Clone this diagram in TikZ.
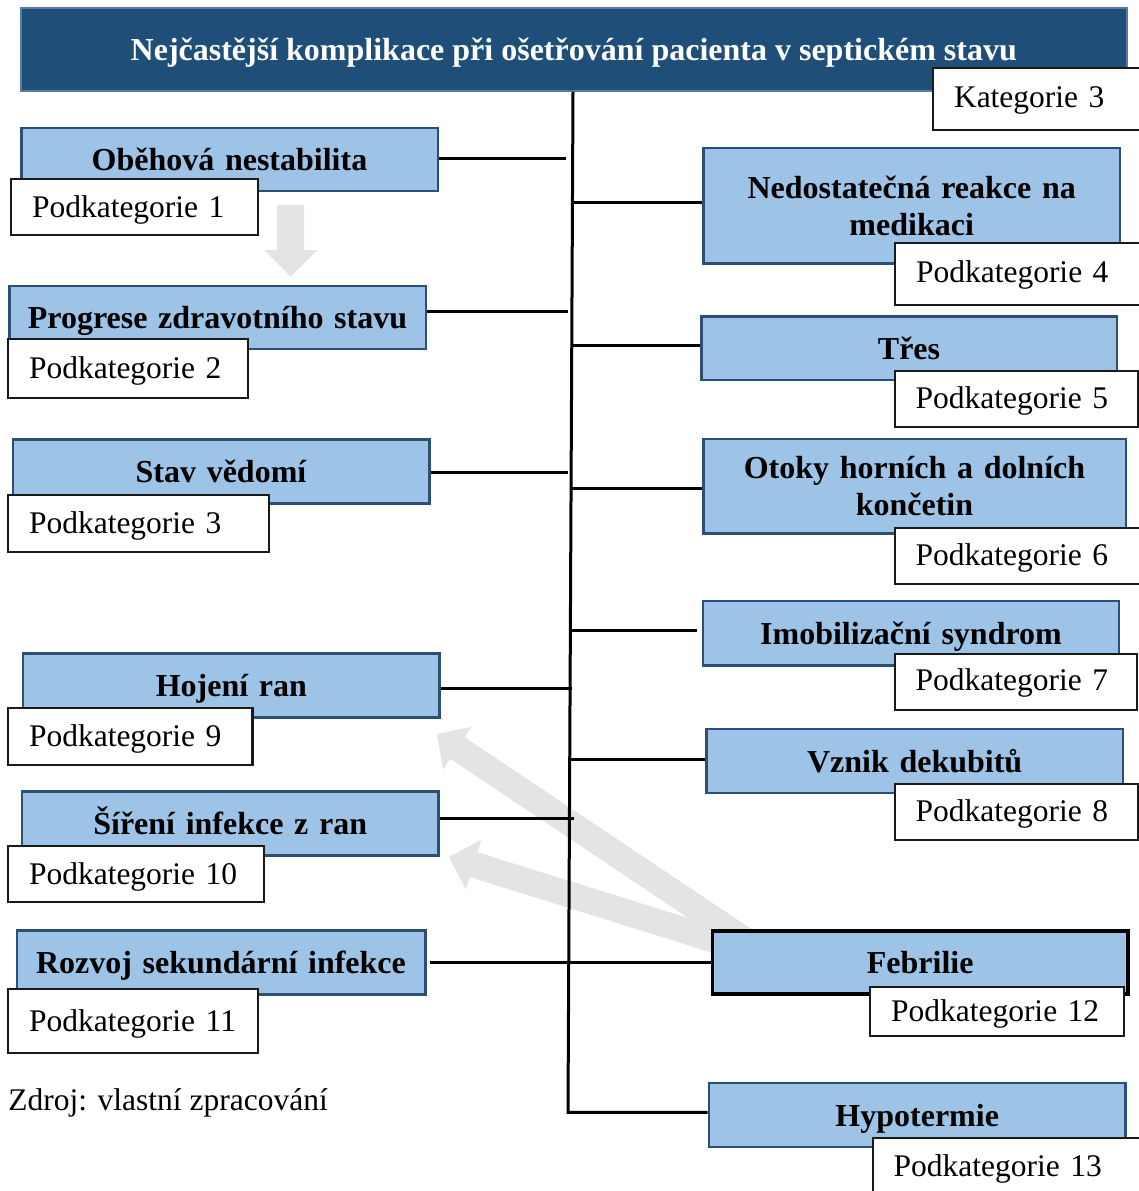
\documentclass[tikz,border=0pt]{standalone}
\usepackage{fontspec}
\setmainfont{Liberation Serif}
\usetikzlibrary{calc}

\definecolor{titlefill}{HTML}{1F4E79}
\definecolor{titleedge}{HTML}{5A7CA0}
\definecolor{catfill}{HTML}{9DC3E6}
\definecolor{catedge}{HTML}{2D4F76}
\definecolor{hint}{HTML}{E4E4E4}

\tikzset{
  catbox/.style={draw=catedge, fill=catfill, line width=2.5pt, inner sep=0pt, align=center,
    font=\bfseries\fontsize{32}{36.7}\selectfont, text height=22pt, text depth=0pt},
  twoline/.style={text depth=36.7pt},
  subbox/.style={draw=black!90, fill=white, line width=2.2pt, inner xsep=21pt, inner ysep=0pt,
    align=left, font=\fontsize{31.5}{36}\selectfont, text height=20pt, text depth=0pt},
  link/.style={line width=3pt, black},
}

% block arrow: tail, tip, shaft half width, head half width, head length
\newcommand\hintarrow[5]{%
  \coordinate (ha-b) at ($(#2)!#5!(#1)$);
  \fill[hint] ($(#1)!#3!90:(#2)$) -- ($(ha-b)!#3!90:(#2)$) -- ($(ha-b)!#4!90:(#2)$) -- (#2)
    -- ($(ha-b)!#4!-90:(#2)$) -- ($(ha-b)!#3!-90:(#2)$) -- ($(#1)!#3!-90:(#2)$) -- cycle;}

\begin{document}
\begin{tikzpicture}[x=1pt,y=-1pt]
\useasboundingbox (0,0) rectangle (1139,1191);

% grey hint arrows (underneath everything else)
\coordinate (dnTail) at (290.7,205);
\coordinate (dnTip) at (290.7,276.7);
\hintarrow{dnTail}{dnTip}{13.5pt}{26.5pt}{26.7pt}
\coordinate (feTailA) at (746,941);
\coordinate (feTipA) at (436.7,734.1);
\hintarrow{feTailA}{feTipA}{13pt}{25.5pt}{25pt}
\coordinate (feTailB) at (716,940.3);
\coordinate (feTipB) at (448.7,856.9);
\hintarrow{feTailB}{feTipB}{13pt}{26pt}{26pt}

% heading
\node[draw=titleedge, fill=titlefill, line width=1.5pt, minimum width=1106pt, minimum height=83pt,
  inner sep=0pt, text=white, font=\bfseries\fontsize{32}{36}\selectfont,
  text height=22.4pt, text depth=0pt] (title) at (573.75,49.5)
  {Nejčastější komplikace při ošetřování pacienta v septickém stavu};

% left column
\node[catbox, text width=416.5pt, minimum height=63pt] (ob) at (229.5,159.5) {Oběhová nestabilita};
\node[catbox, text width=416.5pt, minimum height=63pt] (pr) at (217.5,317.5) {Progrese zdravotního stavu};
\node[catbox, text width=416.5pt, minimum height=64pt] (sv) at (221,471.5) {Stav vědomí};
\node[catbox, text width=416.5pt, minimum height=64pt] (hr) at (231.4,685.7) {Hojení ran};
\node[catbox, text width=416.5pt, minimum height=64pt] (si) at (230.2,823.3) {Šíření infekce z ran};
\node[catbox, text width=408.5pt, minimum height=64pt] (ro) at (221,962.3) {Rozvoj sekundární infekce};

% right column
\node[catbox, twoline, text width=416.5pt, minimum height=115.5pt] (ne) at (911.7,205.8) {Nedostatečná reakce na\\medikaci};
\node[catbox, text width=415.5pt, minimum height=63.5pt] (tr) at (909,348) {Třes};
\node[catbox, twoline, text width=422.5pt, minimum height=94.5pt] (ot) at (914.5,486.3) {Otoky horních a dolních\\končetin};
\node[catbox, text width=416pt, minimum height=64.5pt] (im) at (911,633) {Imobilizační syndrom};
\node[catbox, text width=416.5pt, minimum height=64pt] (vd) at (914.7,761) {Vznik dekubitů};
\node[catbox, draw=black, line width=3.5pt, text width=415.5pt, minimum height=63pt] (fe) at (920.2,962.5) {Febrilie};
\node[catbox, text width=416.5pt, minimum height=64pt] (hy) at (917.2,1115) {Hypotermie};

% spine and connectors
\coordinate (spT) at (573,91.5);
\coordinate (spB) at (568,1112.3);
\draw[link] (title.south -| spT) -- (spB) -- (hy.west |- spB);

\coordinate (jOb) at (566,158);
\coordinate (jPr) at (568,311.7);
\coordinate (jSv) at (568,472);
\coordinate (jHr) at (572,688.5);
\coordinate (jSi) at (574,818.5);
\coordinate (jRo) at (569.6,962.5);
\draw[link] (ob.east |- jOb) -- (jOb);
\draw[link] (pr.east |- jPr) -- (jPr);
\draw[link] (sv.east |- jSv) -- (jSv);
\draw[link] (hr.east |- jHr) -- (jHr);
\draw[link] (si.east |- jSi) -- (jSi);
\draw[link] ([xshift=3.5pt]ro.east |- jRo) -- (fe.west |- jRo);

\coordinate (jNe) at (572.5,202.3);
\coordinate (jTr) at (571.8,345);
\coordinate (jOt) at (571,488);
\coordinate (jIm) at (570.4,630);
\coordinate (jVd) at (569.7,759);
\draw[link] (jNe) -- (ne.west |- jNe);
\draw[link] (jTr) -- (tr.west |- jTr);
\draw[link] (jOt) -- (ot.west |- jOt);
\draw[link] (jIm) -- ([xshift=-5pt]im.west |- jIm);
\draw[link] (jVd) -- (vd.west |- jVd);

% category and subcategory labels
\node[subbox, text width=166pt, minimum height=62pt, text height=16.6pt] (k3) at (1037,99) {Kategorie 3};
\node[subbox, text width=205pt, minimum height=56pt] (p1) at (134.5,207) {Podkategorie 1};
\node[subbox, text width=197.6pt, minimum height=59pt] (p2) at (127.8,368.2) {Podkategorie 2};
\node[subbox, text width=218.7pt, minimum height=56.7pt] (p3) at (138.35,523.35) {Podkategorie 3};
\node[subbox, text width=202.5pt, minimum height=56.7pt] (p9) at (130.25,736.35) {Podkategorie 9};
\node[subbox, text width=213.7pt, minimum height=56pt] (p10) at (135.85,874) {Podkategorie 10};
\node[subbox, text width=208pt, minimum height=64pt] (p11) at (133,1021) {Podkategorie 11};
\node[subbox, text width=204pt, minimum height=62pt, text height=17pt] (p4) at (1018,273.7) {Podkategorie 4};
\node[subbox, text width=201.4pt, minimum height=55.7pt, text height=19pt] (p5) at (1016.3,398.85) {Podkategorie 5};
\node[subbox, text width=204.4pt, minimum height=56.3pt, text height=18.4pt] (p6) at (1017.8,555.85) {Podkategorie 6};
\node[subbox, text width=200.2pt, minimum height=56pt, text height=17.4pt] (p7) at (1015.7,682) {Podkategorie 7};
\node[subbox, text width=201.4pt, minimum height=56pt, text height=20pt] (p8) at (1016.3,811.7) {Podkategorie 8};
\node[subbox, text width=212pt, minimum height=49.3pt, text height=20.8pt] (p12) at (997,1011.35) {Podkategorie 12};
% the lower part of this label is hidden by the box's white fill
\fill[white] ($(p12.south west)+(1.2pt,-1.2pt)$) rectangle ($(p12.south east)+(-1.2pt,-10pt)$);
\node[subbox, text width=235.3pt, minimum height=78pt, text height=10pt, text depth=10pt] (p13) at (1011.35,1176.7) {Podkategorie 13};

% source note
\node[anchor=base west, inner sep=0pt, font=\fontsize{31.5}{36}\selectfont] (src) at (8.3,1110) {Zdroj: vlastní zpracování};
\end{tikzpicture}
\end{document}
